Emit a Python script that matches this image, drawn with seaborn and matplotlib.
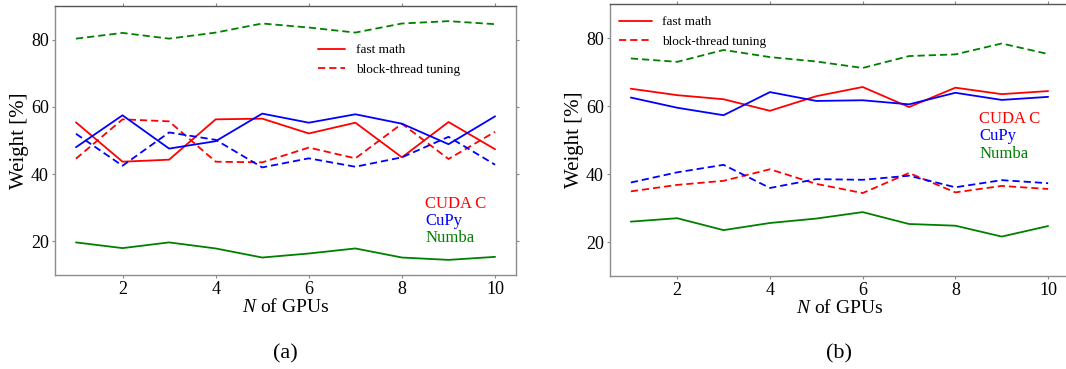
import numpy as np
import pandas as pd
import seaborn as sns
import matplotlib
matplotlib.use("Agg")
import matplotlib.pyplot as plt
from matplotlib.lines import Line2D

# Number of GPUs
n_gpus = [1, 2, 3, 4, 5, 6, 7, 8, 9, 10]

# (a) weights [%]
a_cuda_fast = [55.4, 43.7, 44.3, 56.3, 56.5, 52.1, 55.3, 45.0, 55.5, 47.4]
a_cuda_block = [44.6, 56.3, 55.7, 43.7, 43.5, 47.9, 44.7, 55.0, 44.5, 52.6]
a_cupy_fast = [48.0, 57.5, 47.6, 49.8, 58.0, 55.3, 57.8, 55.0, 48.9, 57.2]
a_cupy_block = [52.0, 42.5, 52.4, 50.2, 42.0, 44.7, 42.2, 45.0, 51.1, 42.8]
a_numba_fast = [19.7, 18.0, 19.7, 17.9, 15.2, 16.4, 17.9, 15.2, 14.5, 15.4]
a_numba_block = [80.3, 82.0, 80.3, 82.1, 84.8, 83.6, 82.1, 84.8, 85.5, 84.6]

# (b) weights [%]
b_cuda_fast = [65.1, 63.2, 62.0, 58.6, 62.9, 65.6, 59.7, 65.4, 63.5, 64.4]
b_cuda_block = [34.9, 36.8, 38.0, 41.4, 37.1, 34.4, 40.3, 34.6, 36.5, 35.6]
b_cupy_fast = [62.5, 59.5, 57.3, 64.1, 61.5, 61.7, 60.5, 63.9, 61.8, 62.7]
b_cupy_block = [37.5, 40.5, 42.7, 35.9, 38.5, 38.3, 39.5, 36.1, 38.2, 37.3]
b_numba_fast = [26.0, 27.0, 23.5, 25.6, 26.9, 28.8, 25.3, 24.8, 21.6, 24.7]
b_numba_block = [74.0, 73.0, 76.5, 74.4, 73.1, 71.2, 74.7, 75.2, 78.4, 75.3]

libraries = ["CUDA C", "CuPy", "Numba"]
methods = ["fast math", "block-thread tuning"]
lib_colors = {"CUDA C": "red", "CuPy": "blue", "Numba": "green"}
x_ticks = [2, 4, 6, 8, 10]
y_ticks = [20, 40, 60, 80]
panel_labels = ["(a)", "(b)"]


def long_frame(series):
    rows = []
    for (lib, method), values in series.items():
        for n, w in zip(n_gpus, values):
            rows.append({"N": n, "weight": w, "library": lib, "method": method})
    return pd.DataFrame(rows)


panel_a = long_frame({
    ("CUDA C", "fast math"): a_cuda_fast,
    ("CUDA C", "block-thread tuning"): a_cuda_block,
    ("CuPy", "fast math"): a_cupy_fast,
    ("CuPy", "block-thread tuning"): a_cupy_block,
    ("Numba", "fast math"): a_numba_fast,
    ("Numba", "block-thread tuning"): a_numba_block,
})
panel_b = long_frame({
    ("CUDA C", "fast math"): b_cuda_fast,
    ("CUDA C", "block-thread tuning"): b_cuda_block,
    ("CuPy", "fast math"): b_cupy_fast,
    ("CuPy", "block-thread tuning"): b_cupy_block,
    ("Numba", "fast math"): b_numba_fast,
    ("Numba", "block-thread tuning"): b_numba_block,
})

sns.set_theme(style="ticks")
plt.rcParams["font.family"] = ["Liberation Serif", "DejaVu Serif"]
plt.rcParams["mathtext.fontset"] = "custom"
plt.rcParams["mathtext.it"] = "Liberation Serif:italic"
plt.rcParams["mathtext.rm"] = "Liberation Serif"
for key in ("text.color", "axes.labelcolor", "xtick.labelcolor", "ytick.labelcolor"):
    plt.rcParams[key] = "black"

fig = plt.figure(figsize=(10.66, 3.69), dpi=100)
ax_a = fig.add_axes([0.0516, 0.2547, 0.4325, 0.729])
ax_b = fig.add_axes([0.5722, 0.2520, 0.4306, 0.737])

dash_map = {"fast math": "", "block-thread tuning": (4, 2.2)}

configs = [
    (ax_a, panel_a, (0.565, 0.868), 2.0, 0.9, (0.803, [0.264, 0.201, 0.138])),
    (ax_b, panel_b, (0.013, 0.965), 2.5, 0.8, (0.804, [0.578, 0.515, 0.449])),
]

for (ax, df, leg_anchor, hlen, hpad, (tx, tys)), plabel in zip(configs, panel_labels):
    sns.lineplot(data=df, x="N", y="weight", hue="library", style="method",
                 hue_order=libraries, style_order=methods,
                 palette=lib_colors, dashes=dash_map, linewidth=1.3,
                 legend=False, ax=ax)
    ax.set_xlim(0.55, 10.45)
    ax.set_ylim(10, 90)
    ax.set_xticks(x_ticks)
    ax.set_yticks(y_ticks)
    ax.tick_params(axis="both", which="major", direction="out", length=2.5,
                   width=0.8, color="#888888", labelsize=13, pad=2,
                   top=True, right=True)
    for side, spine in ax.spines.items():
        spine.set_visible(True)
        spine.set_linewidth(1.0)
        spine.set_color("#555555" if side in ("top",) else "#8c8c8c")
    ax.set_xlabel("$N$ of GPUs", fontsize=14, labelpad=0)
    ax.set_ylabel("Weight [%]", fontsize=15, labelpad=1)

    handles = [Line2D([], [], color="red", lw=1.3, linestyle="-"),
               Line2D([], [], color="red", lw=1.3, linestyle=(0, (4, 2.2)))]
    ax.legend(handles, methods, loc="upper left", bbox_to_anchor=leg_anchor,
              frameon=False, fontsize=9.5, handlelength=hlen, handletextpad=hpad,
              labelspacing=0.55, borderpad=0.2, borderaxespad=0.0)

    for lib, ty in zip(libraries, tys):
        ax.text(tx, ty, lib, transform=ax.transAxes, color=lib_colors[lib],
                fontsize=12, va="center", ha="left")

    box = ax.get_position()
    fig.text(box.x0 + box.width / 2, 0.042, plabel, fontsize=16,
             ha="center", va="center")

fig.savefig("out.png", dpi=100)
